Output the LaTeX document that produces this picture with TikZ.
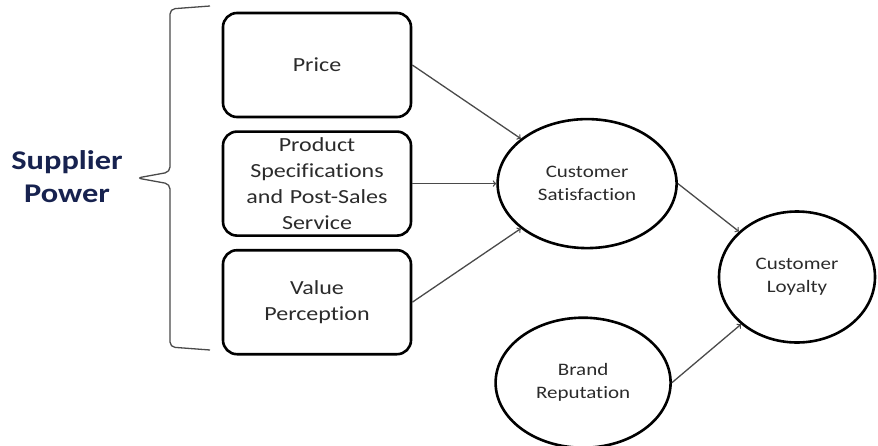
\documentclass[tikz,border=0pt]{standalone}
\usepackage{fontspec}
\setmainfont{Carlito}[FakeStretch=1.2, Ligatures=NoCommon]
\usetikzlibrary{shapes.geometric, arrows, positioning}
\definecolor{mnavy}{HTML}{17224F}
\definecolor{mline}{HTML}{4A4A4A}
\definecolor{mtext}{HTML}{2B2B2B}
\tikzstyle{factor} = [rectangle, rounded corners=14pt, draw, line width=2.6pt, minimum width=188pt, minimum height=104pt, inner sep=0pt, text width=180pt, text centered, text=mtext, font=\fontsize{20}{26}\selectfont]
\tikzstyle{construct} = [ellipse, draw, line width=2.6pt, inner sep=0pt, text centered, align=center, text=mtext, font=\fontsize{17.5}{23}\selectfont]
\tikzstyle{link} = [line width=1.3pt, ->, >=to, draw=mline]
\tikzstyle{bracket} = [line width=1.3pt, draw=mline, rounded corners=5pt]

\begin{document}
\begin{tikzpicture}[x=1pt, y=-1pt, align=center, node distance=12pt]
  \useasboundingbox (0,0) rectangle (878,445);
  \node (power) [text=mnavy, font=\fontsize{27}{33}\selectfont\bfseries] at (67,177) {Supplier\\Power};
  \node (price) [factor] at (317,65) {Price};
  \node (spec) [factor, below = of price] {Product\\Specifications\\and Post-Sales\\Service};
  \node (value) [factor, below = of spec] {Value\\Perception};
  \draw [bracket] (210,6) -- (170,9) -- (170,172) -- (137,178) -- (170,184) -- (170,347) -- (210,350);
  \node (sat) [construct, minimum width=179pt, minimum height=129pt, right = 84pt of spec] {Customer\\Satisfaction};
  \node (brand) [construct, minimum width=175pt, minimum height=130pt, below = 67pt of sat, xshift=-4pt] {Brand\\Reputation};
  \node (loyal) [construct, minimum width=156pt, minimum height=131pt] at (797,277) {Customer\\Loyalty};
  \draw [link] (price.east) -- (sat);
  \draw [link] (spec.east) -- (sat);
  \draw [link] (value.east) -- (sat);
  \draw [link] (sat.east) -- (loyal);
  \draw [link] (brand.east) -- (loyal);
\end{tikzpicture}
\end{document}
